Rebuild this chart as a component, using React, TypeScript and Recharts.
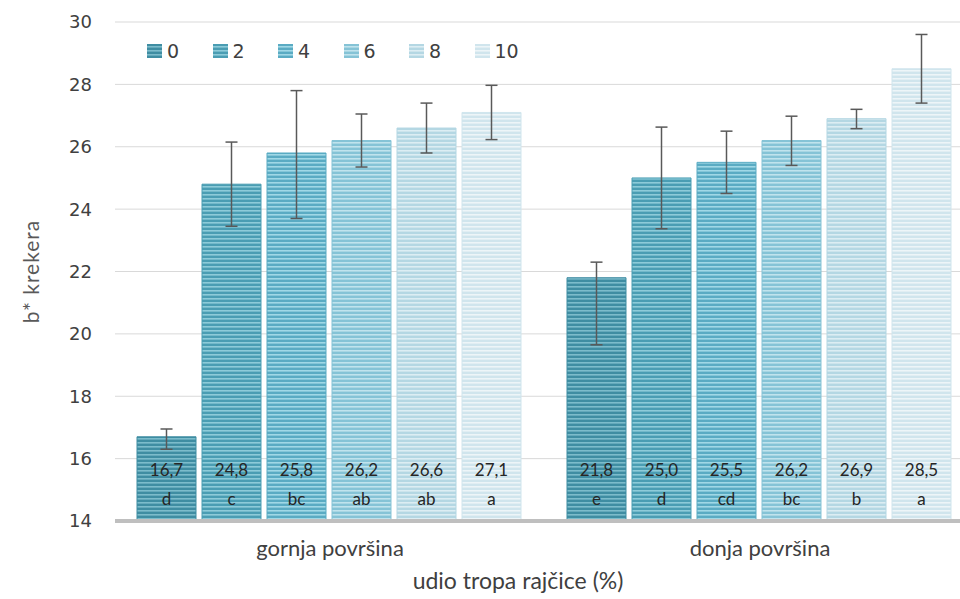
import React from "react";
import {
  BarChart,
  Bar,
  XAxis,
  YAxis,
  CartesianGrid,
  ErrorBar,
  LabelList,
} from "recharts";

// categories and tick labels
const categories = ["gornja površina", "donja površina"];
const levels = ["0", "2", "4", "6", "8", "10"];
const yTicks = [14, 16, 18, 20, 22, 24, 26, 28, 30];

// b* values per tomato pomace share (%)
const v0 = [16.7, 21.8];
const v2 = [24.8, 25.0];
const v4 = [25.8, 25.5];
const v6 = [26.2, 26.2];
const v8 = [26.6, 26.9];
const v10 = [27.1, 28.5];

// error bars [lower, upper]
const e0 = [[0.4, 0.25], [2.15, 0.5]];
const e2 = [[1.35, 1.35], [1.63, 1.63]];
const e4 = [[2.1, 2.0], [1.0, 1.0]];
const e6 = [[0.85, 0.85], [0.8, 0.78]];
const e8 = [[0.8, 0.8], [0.32, 0.3]];
const e10 = [[0.87, 0.87], [1.1, 1.1]];

// significance letters
const l0 = ["d", "e"];
const l2 = ["c", "d"];
const l4 = ["bc", "cd"];
const l6 = ["ab", "bc"];
const l8 = ["ab", "b"];
const l10 = ["a", "a"];

const values = [v0, v2, v4, v6, v8, v10];
const errors = [e0, e2, e4, e6, e8, e10];
const letters = [l0, l2, l4, l6, l8, l10];

const colors = [
  { dark: "#3f8da2", light: "#7cbccb" },
  { dark: "#4a9db3", light: "#8dcbd9" },
  { dark: "#5aabc3", light: "#a0d8e6" },
  { dark: "#85c3d6", light: "#c0e3ed" },
  { dark: "#b4d7e3", light: "#dcedf3" },
  { dark: "#d0e5ed", light: "#edf5f8" },
];

const data = categories.map((name, i) => {
  const row: any = { name };
  levels.forEach((lv, s) => {
    row["v" + lv] = values[s][i];
    row["e" + lv] = errors[s][i];
  });
  return row;
});

const fmt = (n: number) => n.toFixed(1).replace(".", ",");

function makeLabel(s: number) {
  return (props: any) => {
    const { x, y, width, height, index, value } = props;
    const cx = x + width / 2;
    const bottom = y + height;
    return (
      <g>
        <text x={cx} y={bottom - 45} textAnchor="middle" fontFamily="Lato" fontSize={17} fill="#262626">
          {fmt(value)}
        </text>
        <text x={cx} y={bottom - 16} textAnchor="middle" fontFamily="Lato" fontSize={17} fill="#262626">
          {letters[s][index]}
        </text>
      </g>
    );
  };
}

function ChartLegend() {
  return (
    <div style={{ position: "absolute", left: 147, top: 40, display: "flex" }}>
      {levels.map((lv, s) => (
        <div key={lv} style={{ display: "flex", alignItems: "center", width: 65.5, height: 22 }}>
          <svg width={15} height={14} style={{ marginRight: 5 }}>
            <rect x={0} y={0} width={15} height={14} fill={`url(#pat${s})`} />
          </svg>
          <span style={{ fontFamily: "DejaVu Sans", fontSize: 19, color: "#404040", lineHeight: "22px" }}>
            {lv}
          </span>
        </div>
      ))}
    </div>
  );
}

export default function App() {
  return (
    <div
      style={{
        position: "absolute",
        left: 0,
        top: 0,
        width: 960,
        height: 599,
        overflow: "hidden",
        background: "#fff",
      }}
    >
      <svg width={0} height={0} style={{ position: "absolute" }}>
        <defs>
          {colors.map((c, s) => (
            <pattern key={s} id={`pat${s}`} width={4} height={4} patternUnits="userSpaceOnUse">
              <rect x={0} y={0} width={4} height={4} fill={c.dark} />
              <rect x={0} y={2} width={4} height={1.6} fill={c.light} />
            </pattern>
          ))}
        </defs>
      </svg>
      <BarChart
        width={1000}
        height={599}
        data={data}
        margin={{ top: 22, right: 25, bottom: 0, left: 0 }}
        barCategoryGap={22}
        barGap={6}
      >
        <CartesianGrid vertical={false} stroke="#d9d9d9" />
        <XAxis
          dataKey="name"
          height={78}
          axisLine={{ stroke: "#bfbfbf", strokeWidth: 4 }}
          tickLine={false}
          tickSize={0}
          tickMargin={19}
          tick={{ fontFamily: "Lato", fontSize: 22, fill: "#404040" }}
          label={{
            value: "udio tropa rajčice (%)",
            position: "insideBottom",
            offset: 10,
            dx: -27,
            style: { fontFamily: "Lato", fontSize: 23, fill: "#404040" },
          }}
        />
        <YAxis
          domain={[14, 30]}
          ticks={yTicks}
          width={115}
          axisLine={false}
          tickLine={false}
          tickSize={0}
          tickMargin={23}
          tick={{ fontFamily: "DejaVu Sans", fontSize: 18, fill: "#404040" }}
          label={{
            value: "b* krekera",
            angle: -90,
            position: "insideLeft",
            offset: 32,
            style: {
              fontFamily: "Lato",
              fontSize: 21,
              letterSpacing: 1,
              fill: "#595959",
              textAnchor: "middle",
            },
          }}
        />
        {levels.map((lv, s) => (
          <Bar
            key={lv}
            dataKey={"v" + lv}
            name={lv}
            fill={`url(#pat${s})`}
            stroke={colors[s].dark}
            strokeWidth={1}
            isAnimationActive={false}
          >
            <ErrorBar dataKey={"e" + lv} width={6} stroke="#595959" strokeWidth={1.5} />
            <LabelList dataKey={"v" + lv} content={makeLabel(s)} />
          </Bar>
        ))}
      </BarChart>
      <ChartLegend />
    </div>
  );
}
